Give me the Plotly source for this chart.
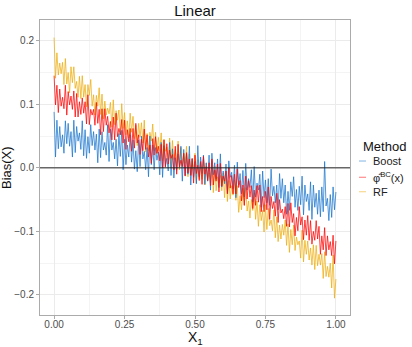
import plotly.graph_objects as go

# x grid of the simulation (201 evaluation points on [0, 1])
X1 = [i / 200 for i in range(201)]

BIAS_RF = [
    .205, .141, .181, .146, .165, .148, .166, .131, .172, .132,
    .150, .118, .159, .134, .159, .125, .136, .111, .144, .109,
    .145, .111, .131, .096, .131, .114, .139, .097, .115, .083,
    .114, .097, .126, .084, .116, .077, .105, .083, .094, .085,
    .103, .064, .107, .068, .090, .075, .091, .052, .101, .062,
    .087, .052, .074, .047, .086, .056, .081, .046, .067, .035,
    .070, .048, .071, .039, .075, .025, .054, .027, .056, .042,
    .069, .027, .056, .022, .048, .026, .055, .011, .045, .026,
    .033, .013, .047, .000, .043, .013, .029, .002, .042, -.003,
    .032, .002, .022, .007, .034, -.014, .022, -.011, .011, -.004,
    .023, -.024, .013, -.017, .007, -.018, .013, -.027, .007, -.018,
    -.008, -.023, .011, -.039, .003, -.036, -.014, -.024, -.012, -.036,
    -.008, -.047, -.006, -.053, -.020, -.049, -.028, -.043, -.019, -.051,
    -.028, -.070, -.044, -.066, -.032, -.059, -.031, -.068, -.052, -.079,
    -.050, -.067, -.039, -.081, -.052, -.092, -.058, -.083, -.067, -.101,
    -.058, -.097, -.064, -.091, -.082, -.099, -.066, -.110, -.077, -.116,
    -.090, -.112, -.089, -.106, -.082, -.122, -.088, -.133, -.097, -.121,
    -.090, -.130, -.109, -.121, -.115, -.142, -.098, -.148, -.114, -.136,
    -.115, -.145, -.126, -.153, -.121, -.160, -.122, -.154, -.136, -.153,
    -.135, -.174, -.132, -.171, -.155, -.172, -.150, -.189, -.137, -.205,
    -.175,
]

BIAS_PHI = [
    .145, .099, .130, .087, .124, .097, .111, .093, .130, .083,
    .120, .099, .113, .092, .121, .080, .117, .080, .104, .084,
    .110, .086, .104, .069, .115, .068, .092, .083, .092, .067,
    .103, .070, .092, .052, .093, .057, .093, .067, .081, .055,
    .073, .044, .080, .044, .086, .049, .062, .052, .076, .039,
    .075, .029, .060, .041, .062, .026, .062, .031, .070, .039,
    .052, .021, .045, .027, .061, .029, .052, .017, .036, .007,
    .046, .020, .049, .023, .034, .011, .037, .000, .044, .001,
    .038, .006, .028, .015, .021, -.003, .034, -.010, .037, .001,
    .012, .002, .023, -.013, .024, -.008, .014, -.012, .015, -.024,
    .020, -.009, .004, -.020, .010, -.026, .018, -.010, .002, -.020,
    .008, -.028, .014, -.027, -.003, -.021, .006, -.038, .007, -.029,
    -.013, -.021, -.005, -.041, .000, -.032, -.012, -.041, -.010, -.041,
    -.002, -.031, -.020, -.052, -.027, -.059, -.013, -.049, -.020, -.046,
    -.028, -.064, -.035, -.059, -.028, -.054, -.027, -.069, -.045, -.069,
    -.037, -.066, -.030, -.081, -.045, -.064, -.053, -.076, -.040, -.086,
    -.050, -.071, -.065, -.080, -.061, -.092, -.056, -.093, -.055, -.086,
    -.072, -.107, -.078, -.099, -.061, -.090, -.077, -.113, -.082, -.106,
    -.075, -.114, -.083, -.120, -.100, -.114, -.083, -.112, -.092, -.136,
    -.107, -.129, -.094, -.138, -.107, -.129, -.116, -.138, -.106, -.151,
    -.115,
]

BIAS_BOOST = [
    .088, .017, .075, .030, .065, .033, .052, .023, .074, .038,
    .070, .034, .057, .017, .075, .024, .065, .042, .055, .029,
    .074, .019, .060, .015, .049, .023, .068, .035, .057, .028,
    .053, .008, .061, .016, .057, .028, .040, .020, .068, .010,
    .061, .028, .040, .014, .045, .003, .054, .018, .059, -.003,
    .045, .005, .036, .017, .052, .009, .044, -.002, .027, -.006,
    .044, .002, .050, .014, .026, -.003, .032, -.014, .050, .005,
    .036, -.003, .032, .012, .025, -.011, .040, -.015, .035, .003,
    .015, -.005, .040, -.012, .030, -.016, .016, -.004, .022, .002,
    .034, -.021, .029, -.012, .022, -.010, .034, -.027, .014, -.015,
    .010, -.025, .035, -.014, .017, -.009, .020, -.026, .008, -.021,
    .020, -.035, .023, -.011, .008, -.018, .014, -.031, .022, -.030,
    -.005, -.025, .006, -.039, .011, -.015, -.007, -.033, .004, -.047,
    .009, -.027, -.009, -.041, -.004, -.046, .007, -.035, -.017, -.031,
    -.003, -.054, .002, -.046, -.024, -.035, -.010, -.062, -.005, -.047,
    -.019, -.055, -.017, -.059, -.002, -.044, -.029, -.055, -.027, -.066,
    -.009, -.048, -.017, -.055, -.027, -.073, -.037, -.067, -.022, -.045,
    -.014, -.062, -.034, -.067, -.029, -.058, -.013, -.074, -.027, -.053,
    -.041, -.067, -.022, -.081, -.027, -.062, -.040, -.073, -.035, -.077,
    -.030, -.069, .010, -.060, -.048, -.083, -.042, -.078, -.030, -.066,
    -.038,
]

METHODS = ["Boost", "\u03c6\u0302<sup>BC</sup>(x)", "RF"]
X_TICKS = [0, 0.25, 0.5, 0.75, 1]
Y_TICKS = [-0.2, -0.1, 0, 0.1, 0.2]


def _main():
    font = "Liberation Sans, Arial, sans-serif"
    colors = {"Boost": "24,116,205", "phi": "255,0,0", "RF": "238,173,14"}

    fig = go.Figure()
    # drawing order: RF underneath, phi on top
    for name, ys, key in [("RF", BIAS_RF, "RF"),
                          ("Boost", BIAS_BOOST, "Boost"),
                          (METHODS[1], BIAS_PHI, "phi")]:
        fig.add_trace(go.Scatter(
            x=X1, y=ys, mode="lines", name=name, showlegend=False,
            line=dict(color="rgba(%s,0.88)" % colors[key], width=0.85),
            hoverinfo="skip",
        ))

    axis_common = dict(
        showline=True, mirror=True, linecolor="#ababab", linewidth=1,
        ticks="outside", ticklen=3, tickcolor="#ababab", tickwidth=1,
        tickfont=dict(family=font, size=10, color="#4d4d4d"),
        gridcolor="#ebebeb", gridwidth=1, zeroline=False,
        minor=dict(showgrid=True, gridcolor="#f4f4f4", gridwidth=0.6, ticks=""),
    )
    fig.update_xaxes(range=[-0.05, 1.05], tickvals=X_TICKS,
                     ticktext=["%.2f" % t for t in X_TICKS],
                     ticklabelstandoff=-3, **axis_common)
    fig.update_xaxes(minor_tickvals=[0.125, 0.375, 0.625, 0.875])
    fig.update_yaxes(range=[-0.2315, 0.2326], tickvals=Y_TICKS,
                     tickformat=".1f", **axis_common)
    fig.update_yaxes(minor_tickvals=[-0.15, -0.05, 0.05, 0.15])

    # horizontal reference line at zero
    fig.add_shape(type="line", xref="paper", yref="y", x0=0, x1=1, y0=0, y1=0,
                  line=dict(color="#222222", width=1), layer="above")

    # legend drawn by hand (ggplot style)
    fig.add_annotation(text="Method", xref="paper", yref="paper",
                       x=1.0345, y=0.5695, xanchor="left", yanchor="middle",
                       showarrow=False, font=dict(family=font, size=13, color="#111"))
    leg_y = [0.522, 0.4668, 0.418]
    for label, key, yy in zip(METHODS, ["Boost", "phi", "RF"], leg_y):
        fig.add_shape(type="line", xref="paper", yref="paper",
                      x0=1.029, x1=1.0516, y0=yy, y1=yy,
                      line=dict(color="rgba(%s,0.45)" % colors[key], width=1.2))
        fig.add_annotation(text=label, xref="paper", yref="paper",
                           x=1.0668, y=yy, xanchor="left", yanchor="middle",
                           showarrow=False,
                           font=dict(family=font, size=11, color="#222"))

    # axis titles
    fig.add_annotation(text="X<sub>1</sub>", xref="paper", yref="paper",
                       x=0.5, y=-0.04, xanchor="center", yanchor="top",
                       showarrow=False, font=dict(family=font, size=14, color="#111"))
    fig.add_annotation(text="Bias(X)", xref="paper", yref="paper",
                       x=-0.108, y=0.5, xanchor="center", yanchor="middle",
                       textangle=-90, showarrow=False,
                       font=dict(family=font, size=13, color="#111"))

    fig.update_layout(
        width=412, height=347,
        margin=dict(l=40, r=62, t=20, b=32),
        paper_bgcolor="white", plot_bgcolor="white",
        title=dict(text="Linear", x=0.5, xref="paper", y=1 - 10.5 / 347,
                   yref="container", xanchor="center", yanchor="middle",
                   font=dict(family=font, size=15, color="#111")),
    )

    # drop the default body margin so the figure sits at the page origin
    fig.write_html("out.html", config={"displayModeBar": False},
                   post_script="document.body.style.margin='0';")


if __name__ == "__main__":
    _main()
